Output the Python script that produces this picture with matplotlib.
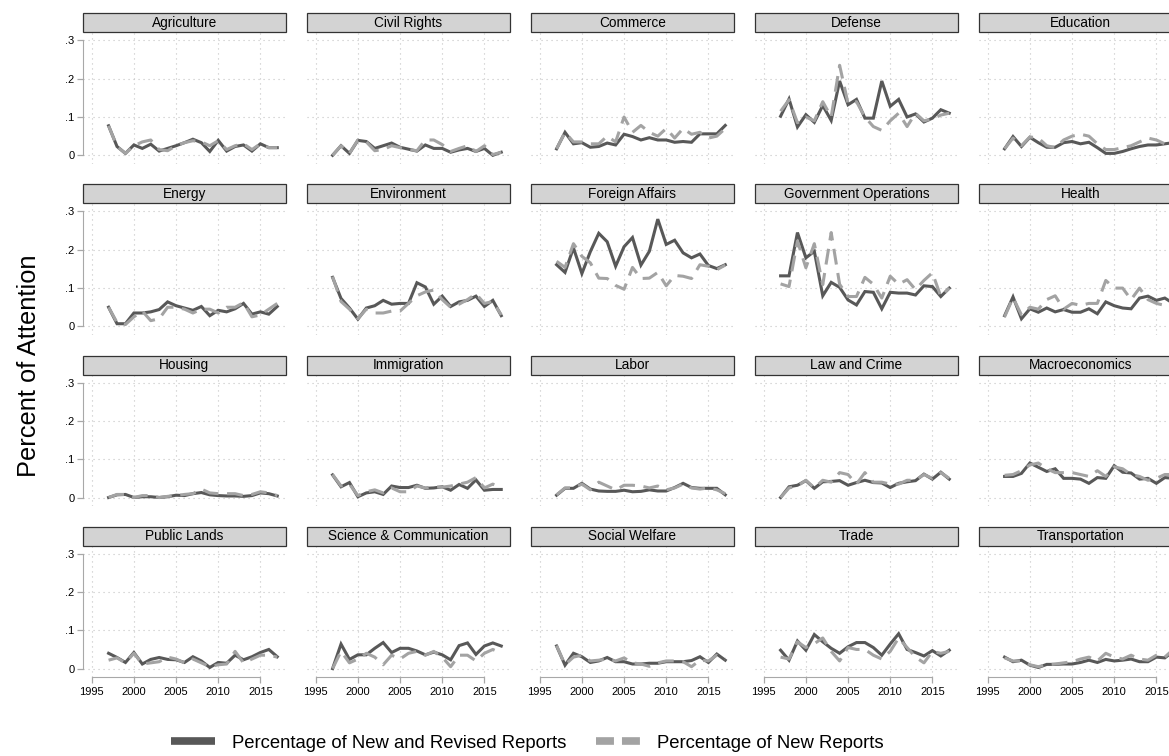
import matplotlib
matplotlib.use("Agg")
import matplotlib.pyplot as plt
from matplotlib.patches import Rectangle
from matplotlib.lines import Line2D

plt.rcParams['font.family'] = ['Liberation Sans', 'DejaVu Sans']

years = list(range(1997, 2018))

topics = ["Agriculture", "Civil Rights", "Commerce", "Defense", "Education",
          "Energy", "Environment", "Foreign Affairs", "Government Operations", "Health",
          "Housing", "Immigration", "Labor", "Law and Crime", "Macroeconomics",
          "Public Lands", "Science & Communication", "Social Welfare", "Trade", "Transportation"]

# share of attention, new and revised reports (solid) / new reports only (dashed)
agriculture_rev = [0.077, 0.023, 0.005, 0.027, 0.018, 0.029, 0.011, 0.018, 0.025, 0.033, 0.042, 0.033, 0.010, 0.039, 0.011, 0.023, 0.027, 0.011, 0.030, 0.020, 0.020]
agriculture_new = [0.077, 0.023, 0.005, 0.025, 0.035, 0.040, 0.015, 0.012, 0.025, 0.033, 0.038, 0.035, 0.025, 0.038, 0.015, 0.025, 0.030, 0.015, 0.030, 0.020, 0.020]
civil_rev = [0.000, 0.025, 0.005, 0.039, 0.036, 0.018, 0.025, 0.032, 0.021, 0.016, 0.011, 0.027, 0.018, 0.018, 0.008, 0.014, 0.018, 0.010, 0.018, 0.000, 0.008]
civil_new = [0.000, 0.025, 0.005, 0.040, 0.035, 0.012, 0.015, 0.025, 0.020, 0.015, 0.012, 0.040, 0.040, 0.028, 0.010, 0.018, 0.025, 0.010, 0.025, 0.002, 0.008]
commerce_rev = [0.017, 0.060, 0.030, 0.033, 0.021, 0.023, 0.032, 0.027, 0.055, 0.049, 0.040, 0.046, 0.040, 0.040, 0.034, 0.036, 0.034, 0.056, 0.056, 0.056, 0.078]
commerce_new = [0.017, 0.060, 0.035, 0.035, 0.030, 0.030, 0.050, 0.035, 0.100, 0.060, 0.078, 0.060, 0.050, 0.070, 0.045, 0.070, 0.055, 0.060, 0.045, 0.050, 0.070]
defense_rev = [0.102, 0.147, 0.074, 0.106, 0.086, 0.130, 0.091, 0.194, 0.132, 0.146, 0.097, 0.097, 0.194, 0.128, 0.146, 0.100, 0.108, 0.087, 0.097, 0.119, 0.110]
defense_new = [0.115, 0.145, 0.085, 0.100, 0.090, 0.140, 0.100, 0.235, 0.135, 0.140, 0.100, 0.075, 0.065, 0.090, 0.110, 0.075, 0.110, 0.090, 0.095, 0.105, 0.110]
education_rev = [0.017, 0.049, 0.023, 0.047, 0.033, 0.021, 0.021, 0.033, 0.036, 0.030, 0.034, 0.020, 0.005, 0.005, 0.010, 0.017, 0.023, 0.027, 0.027, 0.030, 0.033]
education_new = [0.017, 0.045, 0.025, 0.048, 0.045, 0.025, 0.020, 0.040, 0.050, 0.055, 0.050, 0.030, 0.015, 0.015, 0.020, 0.025, 0.035, 0.045, 0.040, 0.030, 0.035]
energy_rev = [0.050, 0.007, 0.007, 0.035, 0.035, 0.038, 0.044, 0.064, 0.054, 0.048, 0.042, 0.052, 0.028, 0.042, 0.038, 0.046, 0.060, 0.032, 0.038, 0.032, 0.052]
energy_new = [0.050, 0.010, 0.005, 0.025, 0.040, 0.015, 0.020, 0.050, 0.050, 0.045, 0.035, 0.045, 0.045, 0.035, 0.050, 0.050, 0.062, 0.025, 0.030, 0.045, 0.060]
environment_rev = [0.128, 0.073, 0.048, 0.019, 0.048, 0.054, 0.068, 0.058, 0.060, 0.060, 0.114, 0.103, 0.058, 0.079, 0.052, 0.064, 0.068, 0.079, 0.052, 0.068, 0.028]
environment_new = [0.130, 0.065, 0.045, 0.020, 0.045, 0.035, 0.035, 0.040, 0.040, 0.060, 0.080, 0.090, 0.095, 0.070, 0.050, 0.058, 0.070, 0.085, 0.060, 0.065, 0.030]
foreign_rev = [0.161, 0.141, 0.205, 0.138, 0.195, 0.243, 0.221, 0.157, 0.208, 0.232, 0.160, 0.196, 0.280, 0.214, 0.225, 0.192, 0.179, 0.189, 0.159, 0.151, 0.161]
foreign_new = [0.170, 0.154, 0.216, 0.183, 0.166, 0.126, 0.125, 0.107, 0.097, 0.154, 0.125, 0.126, 0.141, 0.106, 0.133, 0.131, 0.125, 0.161, 0.157, 0.148, 0.160]
govops_rev = [0.132, 0.132, 0.245, 0.179, 0.196, 0.080, 0.115, 0.102, 0.069, 0.056, 0.091, 0.089, 0.046, 0.089, 0.087, 0.087, 0.082, 0.106, 0.104, 0.078, 0.100]
govops_new = [0.111, 0.104, 0.223, 0.153, 0.216, 0.109, 0.245, 0.110, 0.078, 0.078, 0.128, 0.110, 0.074, 0.131, 0.110, 0.122, 0.096, 0.120, 0.140, 0.078, 0.100]
health_rev = [0.028, 0.077, 0.020, 0.046, 0.037, 0.048, 0.038, 0.044, 0.037, 0.037, 0.046, 0.033, 0.064, 0.054, 0.048, 0.046, 0.074, 0.079, 0.068, 0.074, 0.060]
health_new = [0.025, 0.075, 0.030, 0.050, 0.045, 0.070, 0.080, 0.045, 0.060, 0.055, 0.060, 0.060, 0.120, 0.100, 0.100, 0.070, 0.100, 0.070, 0.060, 0.055, 0.050]
housing_rev = [0.000, 0.007, 0.008, 0.000, 0.002, 0.002, 0.000, 0.002, 0.006, 0.005, 0.010, 0.013, 0.007, 0.005, 0.004, 0.004, 0.003, 0.005, 0.012, 0.010, 0.004]
housing_new = [0.000, 0.008, 0.008, 0.000, 0.005, 0.005, 0.000, 0.003, 0.005, 0.008, 0.010, 0.022, 0.012, 0.010, 0.010, 0.010, 0.005, 0.008, 0.015, 0.012, 0.005]
immigration_rev = [0.059, 0.028, 0.039, 0.002, 0.012, 0.015, 0.008, 0.030, 0.026, 0.026, 0.032, 0.024, 0.025, 0.028, 0.019, 0.034, 0.024, 0.046, 0.019, 0.021, 0.021]
immigration_new = [0.060, 0.030, 0.035, 0.005, 0.015, 0.020, 0.012, 0.025, 0.015, 0.015, 0.030, 0.025, 0.028, 0.027, 0.030, 0.035, 0.040, 0.052, 0.025, 0.035, 0.025]
labor_rev = [0.006, 0.024, 0.024, 0.037, 0.022, 0.017, 0.016, 0.016, 0.019, 0.015, 0.016, 0.020, 0.017, 0.017, 0.026, 0.037, 0.026, 0.024, 0.024, 0.024, 0.007]
labor_new = [0.007, 0.025, 0.025, 0.035, 0.020, 0.040, 0.030, 0.020, 0.032, 0.032, 0.030, 0.025, 0.030, 0.020, 0.025, 0.035, 0.025, 0.022, 0.025, 0.020, 0.010]
law_rev = [0.000, 0.028, 0.032, 0.044, 0.024, 0.041, 0.042, 0.044, 0.032, 0.039, 0.045, 0.039, 0.038, 0.026, 0.037, 0.041, 0.044, 0.061, 0.048, 0.066, 0.048]
law_new = [0.000, 0.025, 0.030, 0.045, 0.025, 0.045, 0.040, 0.065, 0.060, 0.035, 0.065, 0.040, 0.040, 0.035, 0.035, 0.045, 0.045, 0.060, 0.050, 0.065, 0.050]
macro_rev = [0.055, 0.055, 0.063, 0.090, 0.079, 0.068, 0.075, 0.050, 0.050, 0.048, 0.037, 0.052, 0.050, 0.083, 0.066, 0.064, 0.048, 0.050, 0.037, 0.052, 0.050]
macro_new = [0.058, 0.060, 0.070, 0.085, 0.090, 0.075, 0.065, 0.065, 0.065, 0.060, 0.055, 0.070, 0.055, 0.080, 0.075, 0.060, 0.055, 0.045, 0.050, 0.060, 0.060]
publands_rev = [0.040, 0.029, 0.016, 0.042, 0.012, 0.024, 0.029, 0.024, 0.023, 0.016, 0.031, 0.020, 0.003, 0.016, 0.014, 0.035, 0.023, 0.031, 0.042, 0.050, 0.031]
publands_new = [0.022, 0.028, 0.015, 0.040, 0.012, 0.015, 0.018, 0.030, 0.025, 0.015, 0.025, 0.015, 0.005, 0.010, 0.012, 0.045, 0.015, 0.025, 0.035, 0.035, 0.030]
science_rev = [0.000, 0.064, 0.024, 0.036, 0.036, 0.053, 0.068, 0.042, 0.053, 0.053, 0.046, 0.036, 0.043, 0.036, 0.023, 0.060, 0.067, 0.037, 0.059, 0.067, 0.059]
science_new = [0.000, 0.045, 0.015, 0.025, 0.040, 0.030, 0.010, 0.035, 0.025, 0.040, 0.045, 0.035, 0.045, 0.030, 0.005, 0.035, 0.035, 0.020, 0.040, 0.050, 0.040]
welfare_rev = [0.059, 0.009, 0.040, 0.031, 0.016, 0.020, 0.029, 0.018, 0.018, 0.012, 0.012, 0.014, 0.014, 0.018, 0.018, 0.018, 0.021, 0.031, 0.016, 0.038, 0.022]
welfare_new = [0.060, 0.010, 0.030, 0.035, 0.020, 0.022, 0.025, 0.020, 0.028, 0.015, 0.012, 0.006, 0.015, 0.020, 0.020, 0.018, 0.005, 0.022, 0.020, 0.035, 0.025]
trade_rev = [0.048, 0.022, 0.072, 0.048, 0.089, 0.070, 0.053, 0.040, 0.057, 0.068, 0.068, 0.055, 0.035, 0.064, 0.091, 0.050, 0.042, 0.033, 0.047, 0.033, 0.048]
trade_new = [0.030, 0.025, 0.070, 0.055, 0.065, 0.080, 0.045, 0.020, 0.055, 0.050, 0.050, 0.035, 0.025, 0.045, 0.080, 0.055, 0.030, 0.015, 0.045, 0.040, 0.045]
transport_rev = [0.030, 0.018, 0.022, 0.009, 0.003, 0.011, 0.011, 0.012, 0.012, 0.016, 0.022, 0.016, 0.024, 0.020, 0.022, 0.025, 0.018, 0.018, 0.030, 0.028, 0.045]
transport_new = [0.028, 0.020, 0.020, 0.010, 0.005, 0.010, 0.012, 0.015, 0.018, 0.025, 0.030, 0.020, 0.040, 0.030, 0.025, 0.035, 0.025, 0.022, 0.035, 0.030, 0.050]

revised = [agriculture_rev, civil_rev, commerce_rev, defense_rev, education_rev,
           energy_rev, environment_rev, foreign_rev, govops_rev, health_rev,
           housing_rev, immigration_rev, labor_rev, law_rev, macro_rev,
           publands_rev, science_rev, welfare_rev, trade_rev, transport_rev]
new_only = [agriculture_new, civil_new, commerce_new, defense_new, education_new,
            energy_new, environment_new, foreign_new, govops_new, health_new,
            housing_new, immigration_new, labor_new, law_new, macro_new,
            publands_new, science_new, welfare_new, trade_new, transport_new]

yticks = [0, 0.1, 0.2, 0.3]
yticklabels = ["0", ".1", ".2", ".3"]
xticks = [1995, 2000, 2005, 2010, 2015]

W, H = 1169, 756
fig = plt.figure(figsize=(W / 100, H / 100), dpi=100)
fig.patch.set_facecolor("white")

dark = "#585858"
light = "#a3a3a3"
gridc = "#c4c4c4"
axc = "#a8a8a8"

col_left, col_pitch, panel_w = 82.7, 224.0, 203.4
row_top, row_pitch, panel_h = 33.0, 171.1, 131.0
hdr_h = 19.0

for i, name in enumerate(topics):
    r, c = divmod(i, 5)
    left = col_left + c * col_pitch
    top = row_top + r * row_pitch
    ax = fig.add_axes([left / W, 1 - (top + panel_h) / H, panel_w / W, panel_h / H])
    ax.set_xlim(1993.93, 2018.05)
    ax.set_ylim(-0.0227, 0.3193)
    ax.set_xticks(xticks)
    ax.set_yticks(yticks)
    ax.grid(True, color=gridc, linestyle=(0, (1, 3.5)), linewidth=0.8)
    ax.set_axisbelow(True)
    for s in ax.spines.values():
        s.set_visible(False)

    ax.plot(years, revised[i], color=dark, lw=2.2, solid_joinstyle="miter", zorder=3)
    ax.plot(years, new_only[i], color=light, lw=2.2, dashes=(5.2, 2.8), zorder=4)

    ax.tick_params(axis="both", colors=axc, labelcolor="black", labelsize=8, length=4, width=0.9)
    if c == 0:
        ax.spines["left"].set_visible(True)
        ax.spines["left"].set_color(axc)
        ax.spines["left"].set_bounds(0, 0.3)
        ax.set_yticklabels(yticklabels)
        ax.tick_params(axis="y", pad=2)
    else:
        ax.tick_params(axis="y", left=False, labelleft=False)
    if r == 3:
        ax.spines["bottom"].set_visible(True)
        ax.spines["bottom"].set_color(axc)
        ax.spines["bottom"].set_bounds(1995, 2015)
        ax.set_xticklabels([str(t) for t in xticks])
        ax.tick_params(axis="x", pad=3)
    else:
        ax.tick_params(axis="x", bottom=False, labelbottom=False)

    # strip header
    y0 = 1 + 0.7 / panel_h
    hh = hdr_h / panel_h
    ax.add_patch(Rectangle((0, y0), 1, hh, transform=ax.transAxes, clip_on=False,
                           facecolor="#d3d3d3", edgecolor="#333333", lw=0.9))
    ax.text(0.5, y0 + hh / 2, name, transform=ax.transAxes, ha="center", va="center",
            fontsize=9.8, color="black")

fig.text(29 / W, 1 - 366 / H, "Percent of Attention", rotation=90, ha="center", va="center",
         fontsize=18.3)

h1 = Line2D([], [], color=dark, lw=5.5, solid_capstyle="butt")
h2 = Line2D([], [], color=light, lw=5.5, dashes=(2.35, 1.05))
fig.legend([h1, h2], ["Percentage of New and Revised Reports", "Percentage of New Reports"],
           loc="center", bbox_to_anchor=(527 / W, 1 - 743 / H), ncol=2, frameon=False,
           fontsize=13.3, handlelength=2.4, handletextpad=0.9, columnspacing=1.6)

fig.savefig("out.png", dpi=100)
